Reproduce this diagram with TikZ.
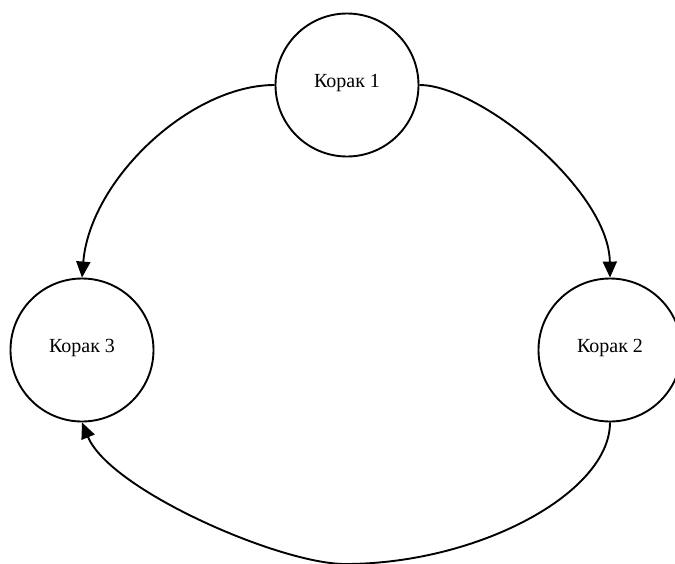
\documentclass[tikz,border=0pt]{standalone}
\usepackage{fontspec}
\setmainfont{Liberation Serif}
\usetikzlibrary{arrows.meta}

\tikzset{
  stage/.style={circle, draw, line width=1.9pt, minimum size=143pt, inner sep=0pt,
                font=\fontsize{20}{24}\selectfont, text depth=9pt},
  flow/.style={line width=1.9pt, -{Triangle[length=16pt,width=14pt]}}
}

\begin{document}
\begin{tikzpicture}[x=1pt, y=-1pt]
  \useasboundingbox (0,0) rectangle (675,563);

  % the three steps of the cycle
  \node[stage] (s1) at (347,85)  {Корак 1};
  \node[stage] (s2) at (610,350) {Корак 2};
  \node[stage] (s3) at (82,350)  {Корак 3};

  % lowest point of the return arc
  \coordinate (low) at (345,564);

  % connectors
  \draw[flow] (s1.east) .. controls (480,85) and (609,190) .. (s2.north);
  \draw[flow] (s1.west) .. controls (190,85) and (90,180) .. (s3.north);
  \draw[flow] (s2.south) .. controls (610,493) and (478,564) .. (low)
                         .. controls (280,564) and (110,490) .. (s3.south);
\end{tikzpicture}
\end{document}
